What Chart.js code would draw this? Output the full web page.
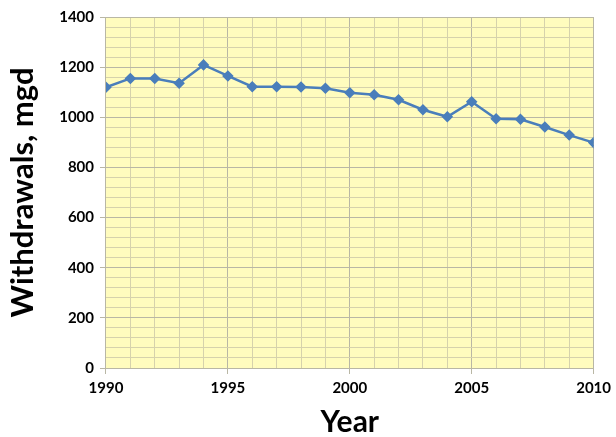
<!DOCTYPE html>
<html>
<head>
<meta charset="utf-8">
<script src="https://cdn.jsdelivr.net/npm/chart.js@4/dist/chart.umd.min.js"></script>
<style>
  html, body { margin: 0; padding: 0; background: #fff; }
  #wrap { width: 616px; height: 437px; }
</style>
</head>
<body>
<div id="wrap"><canvas id="c"></canvas></div>
<script>
// Annual withdrawals, million gallons per day
const years = [1990, 1991, 1992, 1993, 1994, 1995, 1996, 1997, 1998, 1999, 2000,
               2001, 2002, 2003, 2004, 2005, 2006, 2007, 2008, 2009, 2010];
const withdrawals = [1120, 1155, 1155, 1136, 1209, 1165, 1122, 1122, 1121, 1116, 1098,
                     1090, 1070, 1030, 1002, 1062, 994, 992, 961, 929, 899];
const yMajorTicks = [0, 200, 400, 600, 800, 1000, 1200, 1400];
const xMajorTicks = [1990, 1995, 2000, 2005, 2010];

const plotBg = {
  id: 'plotBg',
  beforeDraw(chart) {
    const { ctx, chartArea: a } = chart;
    ctx.save();
    ctx.fillStyle = 'rgb(255,252,190)';
    ctx.fillRect(a.left, a.top, a.right - a.left, a.bottom - a.top);
    ctx.restore();
  }
};

const minorGrid = 'rgb(214,210,172)';
const majorGrid = 'rgb(185,183,165)';

new Chart(document.getElementById('c'), {
  type: 'line',
  data: {
    datasets: [{
      data: years.map((y, i) => ({ x: y, y: withdrawals[i] })),
      borderColor: '#4A7EBB',
      backgroundColor: '#4A7EBB',
      borderWidth: 2.5,
      pointStyle: 'rectRot',
      pointRadius: 4,
      pointHoverRadius: 4,
      tension: 0
    }]
  },
  options: {
    responsive: true,
    maintainAspectRatio: false,
    animation: false,
    layout: { padding: { top: 17, right: 11, left: 4, bottom: -3 } },
    plugins: { legend: { display: false }, tooltip: { enabled: false } },
    scales: {
      x: {
        type: 'linear',
        min: 1990, max: 2010,
        ticks: {
          stepSize: 1,
          autoSkip: false,
          maxRotation: 0,
          padding: 5,
          color: '#000',
          font: { family: 'Lato', weight: 'bold', size: 15 },
          callback: v => xMajorTicks.includes(v) ? String(v) : ''
        },
        grid: {
          drawOnChartArea: true,
          color: c => xMajorTicks.includes(c.tick && c.tick.value) ? majorGrid : minorGrid,
          tickColor: c => xMajorTicks.includes(c.tick && c.tick.value) ? majorGrid : 'rgba(0,0,0,0)',
          tickLength: 6
        },
        border: { color: majorGrid },
        title: {
          display: true,
          text: 'Year',
          color: '#000',
          font: { family: 'Lato', weight: 'bold', size: 30 },
          padding: { top: 2, bottom: 0 }
        }
      },
      y: {
        min: 0, max: 1400,
        ticks: {
          stepSize: 40,
          maxTicksLimit: 100,
          autoSkip: false,
          padding: 6,
          color: '#000',
          font: { family: 'Lato', weight: 'bold', size: 15 },
          callback: v => yMajorTicks.includes(v) ? String(v) : ''
        },
        grid: {
          color: c => yMajorTicks.includes(c.tick && c.tick.value) ? majorGrid : minorGrid,
          tickColor: c => yMajorTicks.includes(c.tick && c.tick.value) ? majorGrid : 'rgba(0,0,0,0)',
          tickLength: 6
        },
        border: { color: majorGrid },
        title: {
          display: true,
          text: 'Withdrawals, mgd',
          color: '#000',
          font: { family: 'Lato', weight: 'bold', size: 31 },
          padding: { top: 0, bottom: 12 }
        }
      },
      y2: {
        position: 'right',
        min: 0, max: 1400,
        ticks: { display: false },
        grid: { display: false },
        border: { color: majorGrid }
      }
    }
  },
  plugins: [plotBg]
});
</script>
</body>
</html>
